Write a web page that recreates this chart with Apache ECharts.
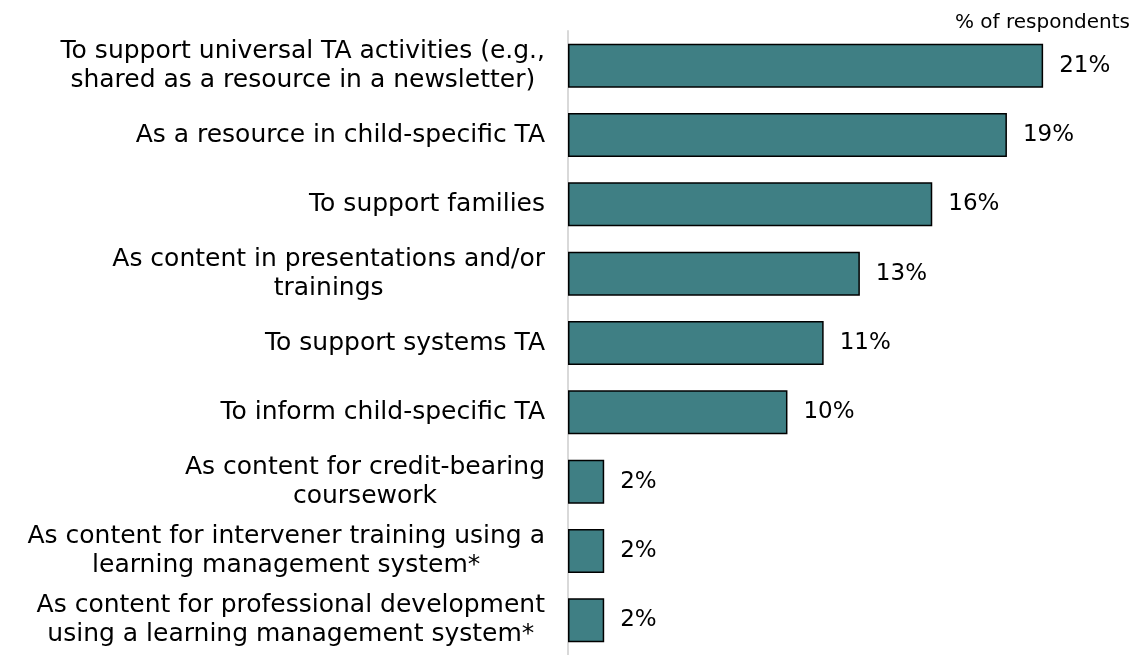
<!DOCTYPE html>
<html>
<head>
<meta charset="utf-8">
<script src="https://cdn.jsdelivr.net/npm/echarts@6/dist/echarts.min.js"></script>
<style>
html,body{margin:0;padding:0;background:#fff;}
#chart{width:1135px;height:655px;}
</style>
</head>
<body>
<div id="chart"></div>
<script>
const categories = [
  "To support universal TA activities (e.g.,\nshared as a resource in a newsletter)",
  "As a resource in child-specific TA",
  "To support families",
  "As content in presentations and/or\ntrainings",
  "To support systems TA",
  "To inform child-specific TA",
  "As content for credit-bearing\ncoursework",
  "As content for intervener training using a\nlearning management system*",
  "As content for professional development\nusing a learning management system*"
];
const values = [21.0, 19.4, 16.1, 12.9, 11.3, 9.7, 1.6, 1.6, 1.6];
const unitLabel = "% of respondents";

const FONT = "'Century Gothic', 'DejaVu Sans', sans-serif";
const chart = echarts.init(document.getElementById('chart'));
chart.setOption({
  backgroundColor: '#ffffff',
  animation: false,
  title: {
    text: unitLabel,
    right: 0,
    top: 8,
    textStyle: {fontFamily: FONT, fontSize: 20, fontWeight: 'normal', color: '#000'}
  },
  grid: {left: 568, right: 24, top: 31, bottom: -5, containLabel: false},
  xAxis: {
    type: 'value', min: 0, max: 24,
    show: false
  },
  yAxis: {
    type: 'category',
    inverse: true,
    data: categories,
    axisLine: {show: true, lineStyle: {color: '#d9d9d9', width: 2}},
    axisTick: {show: false},
    axisLabel: {
      margin: 23,
      fontFamily: FONT,
      fontSize: 25,
      color: '#000',
      lineHeight: 29,
      formatter: function (v) {
        return v.split('\n').map(function (l) { return '{c|' + l + '}'; }).join('\n');
      },
      rich: {c: {align: 'center', fontFamily: FONT, fontSize: 25, lineHeight: 29, color: '#000'}}
    }
  },
  series: [{
    type: 'bar',
    data: values,
    barWidth: 44,
    itemStyle: {color: '#3f7f84', borderColor: '#000', borderWidth: 1.5},
    label: {
      show: true,
      position: 'right',
      distance: 16,
      fontFamily: FONT,
      fontSize: 23,
      color: '#000',
      formatter: function (p) { return Math.round(p.value) + '%'; }
    }
  }]
});
</script>
</body>
</html>
